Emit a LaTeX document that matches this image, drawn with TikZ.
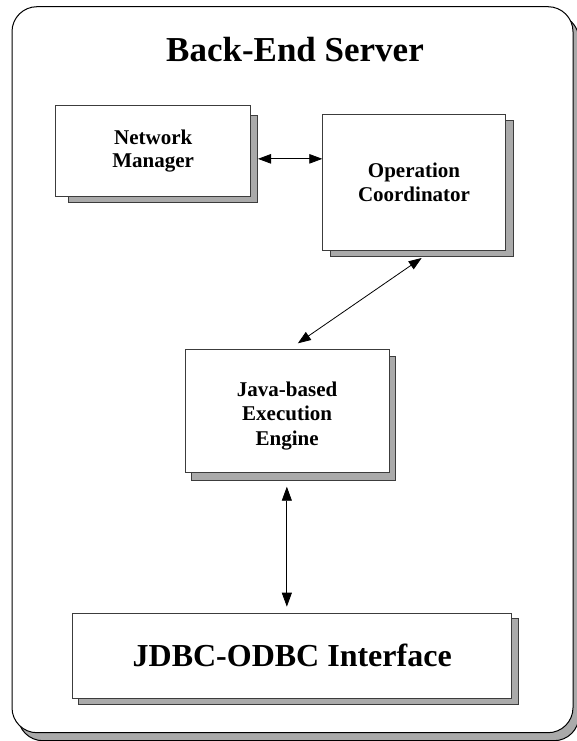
\documentclass[tikz,border=0pt]{standalone}
\usepackage{fontspec}
\setmainfont{Liberation Serif}
\usetikzlibrary{arrows.meta,calc}
\definecolor{shadowgray}{RGB}{170,170,170}
\definecolor{edgegray}{RGB}{60,60,60}
\begin{document}
\begin{tikzpicture}[x=1pt,y=1pt,
  boxstyle/.style={draw=edgegray, line width=0.9pt, fill=white, inner sep=0pt, outer sep=0pt, align=center,
    font=\bfseries\fontsize{21}{24}\selectfont},
  shadestyle/.style={draw=edgegray, line width=0.9pt, fill=shadowgray, inner sep=0pt, outer sep=0pt},
  link/.style={line width=0.8pt, {Triangle[length=13pt,width=9.5pt]}-{Triangle[length=13pt,width=9.5pt]}}
]
\useasboundingbox (0,0) rectangle (576,-741);
% outer container
\node[draw=black, line width=1pt, fill=shadowgray, rounded corners=25pt, minimum width=561pt, minimum height=726pt, inner sep=0pt] (servershadow) at (298.5,-377.7) {};
\node[draw=black, line width=1pt, fill=white, rounded corners=25pt, minimum width=561pt, minimum height=726pt, inner sep=0pt] (server) at (292.5,-369.7) {};
\node[anchor=base, font=\bfseries\fontsize{35}{40}\selectfont] (title) at (295,-62) {Back-End Server};
% Network Manager
\node[shadestyle, minimum width=189pt, minimum height=86.3pt] (nms) at (162.5,-158.85) {};
\node[boxstyle, minimum width=195pt, minimum height=91.4pt, font=\bfseries\fontsize{21}{23}\selectfont] (nm) at (153.2,-151) {Network\\Manager};
% Operation Coordinator
\node[shadestyle, minimum width=183.3pt, minimum height=136.7pt] (ocs) at (421.65,-188.35) {};
\node[boxstyle, minimum width=183.4pt, minimum height=136pt] (oc) at (414,-182) {Operation\\Coordinator};
% Java-based Execution Engine
\node[shadestyle, minimum width=204pt, minimum height=124pt] (javas) at (293.7,-418.7) {};
\node[boxstyle, minimum width=204.3pt, minimum height=123.7pt,
  label={[align=center, font=\bfseries\fontsize{21}{24.5}\selectfont, yshift=-5pt]center:Java-based\\Execution\\Engine}] (java) at (287.15,-410.85) {};
% JDBC-ODBC Interface
\node[shadestyle, minimum width=440pt, minimum height=86pt] (jdbcs) at (298.3,-661.3) {};
\node[boxstyle, minimum width=439pt, minimum height=85pt, font=\bfseries\fontsize{32}{36}\selectfont] (jdbc) at (292.2,-655.8) {JDBC-ODBC Interface};
% connectors
\draw[link] ($(nms.east)+(1,0)$) -- (oc.west |- nms.east);
\draw[link] ($(ocs.south)+(0,-1.3)$) -- ($(java.north)+(10.7,5.7)$);
\draw[link, {Triangle[length=14pt,width=10pt]}-{Triangle[length=14pt,width=10pt]}] ($(java.south)+(-0.3,-14)$) -- ($(jdbc.north -| java.south)+(-0.3,6.6)$);
\end{tikzpicture}
\end{document}
